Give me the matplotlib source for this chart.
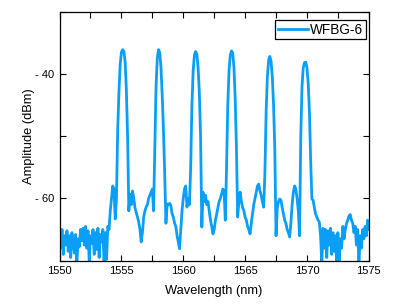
import numpy as np
import matplotlib
matplotlib.use("Agg")
import matplotlib.pyplot as plt
from matplotlib.ticker import MultipleLocator, FuncFormatter

plt.rcParams["font.family"] = ["Liberation Sans", "DejaVu Sans"]

# Reflection spectrum, sampled every 0.1 nm from 1550.0 to 1575.0 nm
amp_dbm = [
    # 1550.0 - 1550.9
    -65.5, -68.0, -65.0, -69.0, -66.0, -67.5, -65.2, -68.5, -66.0, -69.5,
    # 1551
    -65.5, -67.0, -68.8, -65.8, -70.5, -66.5, -67.8, -65.0, -66.8, -64.8,
    # 1552
    -67.5, -64.5, -68.0, -65.2, -70.2, -66.0, -67.2, -65.0, -69.0, -65.5,
    # 1553
    -68.2, -64.8, -69.5, -65.8, -67.0, -65.0, -70.5, -65.5, -69.8, -64.5,
    # 1554
    -65.0, -62.0, -60.0, -58.0, -58.5, -63.3, -60.0, -49.0, -43.0, -38.5,
    # 1555
    -36.5, -36.1, -36.4, -38.0, -42.5, -50.0, -62.0, -59.3, -61.0, -58.8,
    # 1556
    -60.0, -61.5, -62.3, -63.0, -63.8, -65.0, -67.0, -65.5, -63.0, -62.0,
    # 1557
    -61.4, -61.0, -60.0, -59.5, -59.0, -58.5, -62.0, -52.0, -42.0, -37.5,
    # 1558
    -36.1, -36.6, -39.0, -43.5, -49.0, -56.0, -64.0, -60.9, -61.0, -60.8,
    # 1559
    -61.2, -62.5, -63.0, -64.0, -64.5, -66.0, -67.0, -68.1, -65.0, -62.0,
    # 1560
    -60.0, -58.5, -58.0, -61.4, -60.0, -61.0, -55.0, -45.0, -39.5, -37.0,
    # 1561
    -36.4, -36.8, -39.0, -43.0, -50.0, -64.6, -59.0, -60.5, -59.5, -61.0,
    # 1562
    -60.5, -62.0, -63.5, -64.5, -65.7, -65.0, -63.5, -62.5, -61.5, -60.5,
    # 1563
    -60.0, -59.3, -58.5, -58.8, -63.5, -55.0, -45.0, -39.5, -37.0, -36.3,
    # 1564
    -36.6, -39.0, -44.0, -52.0, -63.0, -60.5, -59.0, -60.5, -61.5, -62.0,
    # 1565
    -63.0, -63.5, -64.5, -65.0, -65.7, -64.0, -62.5, -61.0, -60.0, -59.0,
    # 1566
    -58.0, -57.7, -58.8, -59.5, -60.5, -61.4, -56.0, -46.0, -40.5, -37.8,
    # 1567
    -37.2, -38.0, -40.5, -45.0, -52.0, -66.0, -61.5, -60.5, -60.1, -60.3,
    # 1568
    -61.5, -62.5, -63.5, -64.0, -65.0, -65.5, -66.2, -64.0, -61.0, -59.0,
    # 1569
    -58.0, -58.5, -60.0, -62.0, -66.0, -50.0, -42.0, -39.0, -38.2, -38.1,
    # 1570
    -39.0, -41.5, -46.0, -54.0, -60.1, -60.3, -61.5, -62.5, -63.0, -63.5,
    # 1571
    -63.8, -66.0, -70.5, -64.8, -68.0, -65.0, -69.5, -65.2, -67.5, -64.8,
    # 1572
    -69.0, -65.5, -68.5, -66.0, -70.5, -65.5, -70.5, -66.5, -68.0, -64.5,
    # 1573
    -66.5, -65.0, -64.0, -63.5, -62.8, -62.6, -63.5, -64.0, -65.5, -64.5,
    # 1574
    -67.5, -65.0, -70.5, -66.0, -68.0, -65.0, -66.5, -64.5, -66.0, -63.5,
    # 1575.0
    -65.0,
]
wavelength_nm = np.linspace(1550.0, 1575.0, len(amp_dbm))

fig = plt.figure(figsize=(3.97, 3.07), dpi=100)
ax = fig.add_axes([0.150, 0.151, 0.779, 0.811])

ax.plot(wavelength_nm, amp_dbm, color="#0A9FF6", linewidth=2.0, label="WFBG-6")

ax.set_xlim(1550, 1575)
ax.set_ylim(-70, -30)
ax.xaxis.set_major_locator(MultipleLocator(5))
ax.xaxis.set_minor_locator(MultipleLocator(2.5))
ax.yaxis.set_major_locator(MultipleLocator(20))
ax.yaxis.set_minor_locator(MultipleLocator(10))
ax.yaxis.set_major_formatter(FuncFormatter(
    lambda v, p: f"- {abs(v):.0f}" if v < 0 else f"{v:.0f}"))
ax.tick_params(which="both", direction="in", top=True, right=True,
               length=4, width=0.8, labelsize=8, pad=4)
for sp in ax.spines.values():
    sp.set_linewidth(0.9)

ax.set_xlabel("Wavelength (nm)", fontsize=9.3, labelpad=6)
ax.set_ylabel("Amplitude (dBm)", fontsize=9.3, labelpad=0)

leg = ax.legend(loc="upper right", bbox_to_anchor=(0.990, 0.967),
                borderaxespad=0, fontsize=9.8, frameon=True, fancybox=False,
                edgecolor="black", framealpha=1, handlelength=2.2,
                handletextpad=0.15, borderpad=0.2)
leg.get_frame().set_linewidth(0.9)

fig.savefig("out.png", dpi=100)
